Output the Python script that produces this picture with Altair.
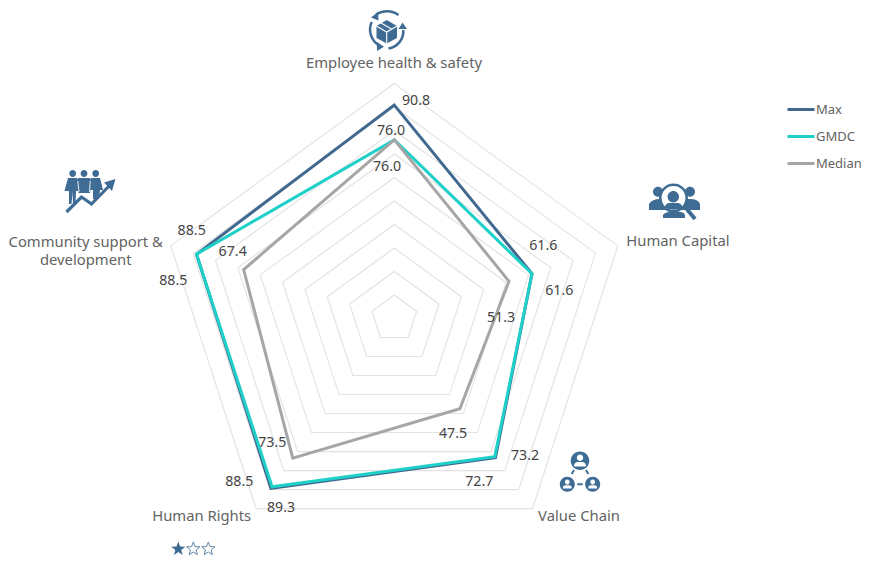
import math
import altair as alt
import pandas as pd

# ---- data ----
categories = ["Employee health & safety", "Human Capital", "Value Chain", "Human Rights", "Community support & development"]
series_names = ["Max", "GMDC", "Median"]
max_values = [90.8, 61.6, 73.2, 89.3, 88.5]
gmdc_values = [76.0, 61.6, 72.7, 88.5, 88.5]
median_values = [76.0, 51.3, 47.5, 73.5, 67.4]
grid_levels = [10, 20, 30, 40, 50, 60, 70, 80, 90, 100]

# ---- layout ----
W, H = 853, 547
CX, CY = 394.3, 318.5      # page coordinates of the radar centre
PX_PER_UNIT = 2.35
BLUE, TEAL, GREY = "#41698f", "#1fd0c8", "#a6a6a6"
ICON = "#3f6c94"
FONT = "Noto Sans"
CAT_SIZE = 14.8
VAL_SIZE = 14.2
CAT_COLOR = "#636363"
VAL_COLOR = "#454545"

x_scale = alt.Scale(domain=[-(CX - 8) / PX_PER_UNIT, (W - (CX - 8)) / PX_PER_UNIT], nice=False, zero=False)
y_scale = alt.Scale(domain=[-(H - (CY - 8)) / PX_PER_UNIT, (CY - 8) / PX_PER_UNIT], nice=False, zero=False)
X = alt.X("x:Q", scale=x_scale, axis=None)
Y = alt.Y("y:Q", scale=y_scale, axis=None)


def project(i, v):
    a = 2 * math.pi * i / len(categories)
    return v * math.sin(a), v * math.cos(a)


rows = []
for name, values in zip(series_names, [max_values, gmdc_values, median_values]):
    for i, (c, v) in enumerate(zip(categories, values)):
        x, y = project(i, v)
        rows.append({"series": name, "category": c, "idx": i, "value": v, "x": x, "y": y})
lines_df = pd.DataFrame(rows)

grid_rows = []
for lv in grid_levels:
    for i in range(len(categories)):
        x, y = project(i, lv)
        grid_rows.append({"level": lv, "idx": i, "x": x, "y": y})
grid_df = pd.DataFrame(grid_rows)

grid = alt.Chart(grid_df).mark_line(interpolate="linear-closed", color="#e2e2e2", strokeWidth=1.1).encode(
    x=X, y=Y, detail="level:N", order="idx:Q"
)

lines = alt.Chart(lines_df).mark_line(interpolate="linear-closed", strokeWidth=3, strokeJoin="miter").encode(
    x=X, y=Y, order="idx:Q",
    color=alt.Color("series:N", scale=alt.Scale(domain=series_names, range=[BLUE, TEAL, GREY]),
                    legend=alt.Legend(orient="none", legendX=778, legendY=86.5, title=None,
                                      symbolType="stroke", symbolSize=729, symbolStrokeWidth=3,
                                      labelFont=FONT, labelFontSize=13, labelColor=CAT_COLOR,
                                      labelOffset=0, rowPadding=5, padding=0)),
)

# value labels: (series, category index, page x, page y of the label centre)
value_labels = [
    ("Max", 0, 416, 101), ("GMDC", 0, 391, 131), ("Median", 0, 387, 167),
    ("Max", 1, 543.3, 246), ("GMDC", 1, 559.3, 291), ("Median", 1, 501, 318),
    ("Max", 2, 525, 455.7), ("GMDC", 2, 479.3, 482.3), ("Median", 2, 453, 434),
    ("Max", 3, 281, 508.3), ("GMDC", 3, 239.3, 482.3), ("Median", 3, 272.3, 443.3),
    ("Max", 4, 191.7, 230.7), ("GMDC", 4, 173.3, 281), ("Median", 4, 232.7, 252.3),
]
label_layers = []
for s, i, lx, ly in value_labels:
    row = lines_df[(lines_df.series == s) & (lines_df.idx == i)].copy()
    row["label"] = row["value"].map(lambda v: f"{v:.1f}")
    px = CX + float(row.x.iloc[0]) * PX_PER_UNIT
    py = CY - float(row.y.iloc[0]) * PX_PER_UNIT
    label_layers.append(
        alt.Chart(row).mark_text(font=FONT, fontSize=VAL_SIZE, color=VAL_COLOR, align="center", baseline="middle",
                                 dx=lx - px, dy=ly - py).encode(x=X, y=Y, text="label:N")
    )

# category labels (page coordinates of the label centres)
cat_labels = [
    ("Employee health & safety", 394, 63.5),
    ("Human Capital", 678, 242),
    ("Value Chain", 579, 516.7),
    ("Human Rights", 201.7, 516.7),
    ("Community support &\ndevelopment", 85.7, 242.5),
]
one = pd.DataFrame({"k": [0]})
cat_layers = [
    alt.Chart(one).mark_text(font=FONT, fontSize=CAT_SIZE, color=CAT_COLOR, align="center", baseline="middle",
                             lineBreak="\n", lineHeight=18.5, text=t).encode(x=alt.value(px - 8), y=alt.value(py - 8))
    for t, px, py in cat_labels
]


# ---- icons: vector shapes whose paths are written in page coordinates ----
def circle(cx, cy, r):
    return f"M{cx - r},{cy} a{r},{r} 0 1 0 {2 * r},0 a{r},{r} 0 1 0 {-2 * r},0 Z "


def star(cx, cy, r):
    pts = []
    for k in range(10):
        rr = r if k % 2 == 0 else r * 0.42
        a = math.pi * k / 5
        pts.append(f"{cx + rr * math.sin(a):.2f},{cy - rr * math.cos(a):.2f}")
    return "M" + " L".join(pts) + " Z"


def shape(path, fill=None, stroke=None, width=1.0):
    if fill:
        mark = dict(filled=True, fill=fill, strokeWidth=0)
    else:
        mark = dict(filled=False, stroke=stroke, strokeWidth=width)
    return alt.Chart(one).mark_point(shape=path, size=4, opacity=1, **mark).encode(x=alt.value(-8), y=alt.value(-8))


icons = [
    # box with circular arrows
    shape("M376,14.5 A19.5,19.5 0 0 1 398.5,15 M403.3,30 A17.5,17.5 0 0 1 388.5,48.5 "
          "M371.7,22 A18.5,18.5 0 0 0 380,46", stroke=ICON, width=2.5),
    shape("M371,17.5 L378,12 L378.5,20.5 Z M402.6,22.5 L398.5,29 L407,29 Z M384,46.7 L377,42 L377,51 Z", fill=ICON),
    shape("M386.7,20 L397,26 L397,38 L386.7,43.5 L376.5,38 L376.5,26 Z", fill=ICON),
    shape("M376.5,26 L386.7,32 L397,26 M386.7,32 L386.7,43.5 M381,23 L391.5,29", stroke="#ffffff", width=1.1),
    # people with rising arrow
    shape(circle(72.7, 173.5, 3.4) + circle(84, 173.5, 3.4) + circle(95.7, 173.5, 3.4)
          + "M68,178 L77,178 L80,191 L76,191 L75.5,204 L73,204 L72.5,192 L71.5,204 L69,204 L69,191 L64.5,191 Z "
          + "M78,178 L90,178 L93,187 L91,188 L90,193 L78.5,193 L77,188 L75,187 Z "
          + "M91,178 L100,178 L103,190 L100,190 L99,199 L93,199 L93,190 L89,190 Z", fill=ICON),
    shape("M77.8,181 L79,192 M90.2,181 L89.5,192", stroke="#ffffff", width=0.9),
    shape("M66.5,212 L81.5,197 L91.5,204 L111,184", stroke=ICON, width=3.2),
    shape("M115.5,179 L104,182.5 L112,191 Z", fill=ICON),
    # people under a magnifier
    shape(circle(658, 191.7, 5) + circle(690, 191.7, 5)
          + "M649,210 L649,204 Q652,199 660,199 L668,199 L668,210 Z "
          + "M680,199 L690,199 Q698,199 700,204 L700,210 L680,210 Z "
          + "M663,218 L663,215 Q665,212 670,212 L680,212 Q684,212 685,215 L685,218 Z", fill=ICON),
    shape(circle(673.5, 198, 13.5), fill="#ffffff"),
    shape(circle(673.5, 198, 13.2), stroke=ICON, width=2.6),
    shape(circle(673.3, 196.7, 5.7) + "M665,208 Q665,203 670,203 L677,203 Q682,203 682.5,208 Q674,211.5 665,208 Z", fill=ICON),
    shape("M686,208 L695,219", stroke=ICON, width=4),
    # value-chain network
    shape(circle(580, 460.7, 9.3) + circle(567.3, 484.3, 7.5) + circle(592.7, 484.3, 7.5), fill=ICON),
    shape("M571.7,474 L574,470 M588.3,474 L586,470 M577.3,484.3 L582.7,484.3", stroke=ICON, width=2),
    shape(circle(580, 457.8, 3.2) + "M574,466.5 Q574,462 578,462 L582,462 Q586,462 586,466.5 Z "
          + circle(567.3, 482, 2.4) + "M562.8,488.5 Q562.8,485.3 565.5,485.3 L569,485.3 Q571.8,485.3 571.8,488.5 Z "
          + circle(592.7, 482, 2.4) + "M588.2,488.5 Q588.2,485.3 591,485.3 L594.5,485.3 Q597.2,485.3 597.2,488.5 Z",
          fill="#ffffff"),
    # rating stars
    shape(star(178.3, 549, 7.4), fill=ICON),
    shape(star(193.3, 549, 7), stroke="#5f87aa", width=1),
    shape(star(208.3, 549, 7), stroke="#5f87aa", width=1),
]

chart = alt.layer(grid, lines, *label_layers, *cat_layers, *icons).properties(
    width=W, height=H, padding=0, autosize=alt.AutoSizeParams(type="none")
).configure_view(stroke=None)

chart.save("out.html", embed_options={"renderer": "svg", "actions": False})
